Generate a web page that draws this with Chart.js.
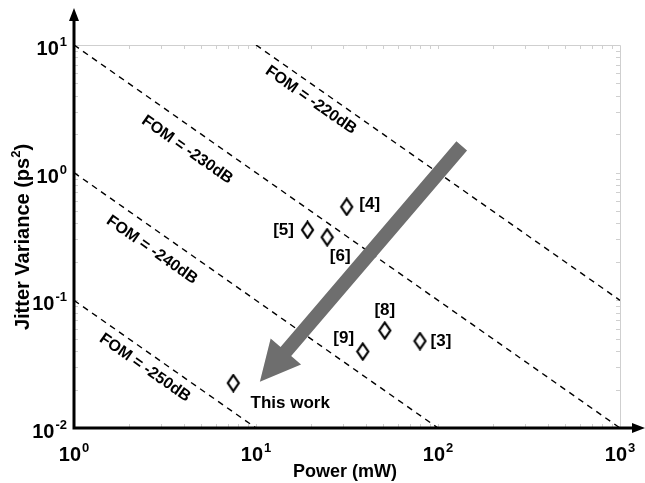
<!DOCTYPE html>
<html>
<head>
<meta charset="utf-8">
<script src="https://cdn.jsdelivr.net/npm/chart.js@4/dist/chart.umd.min.js"></script>
<style>
  html, body { margin: 0; padding: 0; background: #fff; }
  #wrap { width: 645px; height: 483px; }
</style>
</head>
<body>
<div id="wrap"><canvas id="jitter-chart" width="645" height="483"></canvas></div>
<script>
// published designs: power (mW) vs jitter variance (ps^2)
var refNames  = ['[4]', '[5]', '[6]', '[8]', '[9]', '[3]', 'This work'];
var refPower  = [31.5, 19.2, 24.6, 51, 38.6, 79.6, 7.5];
var refJitter = [0.54, 0.356, 0.312, 0.058, 0.0397, 0.048, 0.0225];

// FOM lines, end points
var fomNames = ['FOM = -220dB', 'FOM = -230dB', 'FOM = -240dB', 'FOM = -250dB'];
var fomX = [[10, 1000], [1, 1000], [1, 100], [1, 10]];
var fomY = [[10, 0.1], [10, 0.01], [1, 0.01], [0.1, 0.01]];

var xTicks = [1, 10, 100, 1000];
var xTickExp = ['0', '1', '2', '3'];
var yTicks = [0.01, 0.1, 1, 10];
var yTickExp = ['-2', '-1', '0', '1'];

var color = ['#000000', '#6e6e6e', '#cfcfcf', '#ffffff'];

// where the FOM captions sit, in data units
var fomLabelAt = [{x: 20, y: 3.7}, {x: 4.18, y: 1.51}, {x: 2.68, y: 0.248}, {x: 2.45, y: 0.0296}];
// pixel offsets of the point captions
var refLabelOff = [[23, -3], [-24, 0], [13, 19], [0, -20], [-19, -13], [21, 0], [57, 20]];
// the big arrow, data units
var arrowFrom = {x: 135, y: 1.62};
var arrowTo = {x: 10.5, y: 0.023};

var BOLD = 'bold ';
var FONT = '"Liberation Sans", Arial, sans-serif';

// tall diamond marker
var diamond = document.createElement('canvas');
diamond.width = 15; diamond.height = 19;
var dctx = diamond.getContext('2d');
dctx.beginPath();
dctx.moveTo(7.5, 1.5); dctx.lineTo(13, 9.5); dctx.lineTo(7.5, 17.5); dctx.lineTo(2, 9.5);
dctx.closePath();
dctx.fillStyle = '#fff'; dctx.fill();
dctx.lineWidth = 2.2; dctx.strokeStyle = '#000'; dctx.stroke();

var datasets = [];
for (var i = 0; i < fomNames.length; i++) {
	datasets.push({
		label: fomNames[i],
		data: [{x: fomX[i][0], y: fomY[i][0]}, {x: fomX[i][1], y: fomY[i][1]}],
		showLine: true,
		borderColor: color[0],
		borderWidth: 1.4,
		borderDash: [6, 5],
		pointRadius: 0
	});
}
var refPts = [];
for (var j = 0; j < refNames.length; j++) refPts.push({x: refPower[j], y: refJitter[j]});
datasets.push({
	label: 'designs',
	data: refPts,
	pointStyle: diamond,
	pointRadius: 8
});

function sup(ctx, base, exp, x, y, align, big, small) {
	ctx.font = BOLD + big + 'px ' + FONT;
	var wb = ctx.measureText(base).width;
	ctx.font = BOLD + small + 'px ' + FONT;
	var we = ctx.measureText(exp).width;
	var w = wb + 1 + we;
	var x0 = align === 'right' ? x - w : x - w / 2;
	ctx.textAlign = 'left';
	ctx.textBaseline = 'alphabetic';
	ctx.font = BOLD + big + 'px ' + FONT;
	ctx.fillText(base, x0, y);
	ctx.font = BOLD + small + 'px ' + FONT;
	ctx.fillText(exp, x0 + wb + 1, y - big * 0.45);
}

var decor = {
	id: 'decor',
	beforeDatasetsDraw: function(chart) {
		var ctx = chart.ctx, a = chart.chartArea;
		var xs = chart.scales.x, ys = chart.scales.y;
		ctx.save();
		// light frame top/right
		ctx.strokeStyle = color[2];
		ctx.lineWidth = 1;
		ctx.beginPath();
		ctx.moveTo(a.left, a.top + 0.5); ctx.lineTo(a.right + 0.5, a.top + 0.5); ctx.lineTo(a.right + 0.5, a.bottom);
		ctx.stroke();
		// minor ticks
		ctx.beginPath();
		for (var d = 1; d < 1000; d *= 10) {
			for (var m = 1; m < 10; m++) {
				var px = Math.round(xs.getPixelForValue(d * m)) + 0.5;
				ctx.moveTo(px, a.top); ctx.lineTo(px, a.top + 4);
				ctx.moveTo(px, a.bottom); ctx.lineTo(px, a.bottom - 4);
			}
		}
		for (var e = 0.01; e < 10; e *= 10) {
			for (var n = 1; n < 10; n++) {
				var py = Math.round(ys.getPixelForValue(e * n)) + 0.5;
				ctx.moveTo(a.right, py); ctx.lineTo(a.right - 4, py);
				ctx.moveTo(a.left, py); ctx.lineTo(a.left + 4, py);
			}
		}
		ctx.stroke();
		ctx.restore();
	},
	afterDatasetsDraw: function(chart) {
		var ctx = chart.ctx, a = chart.chartArea;
		var xs = chart.scales.x, ys = chart.scales.y;
		ctx.save();

		// big grey arrow
		var sx = xs.getPixelForValue(arrowFrom.x), sy = ys.getPixelForValue(arrowFrom.y);
		var tx = xs.getPixelForValue(arrowTo.x), ty = ys.getPixelForValue(arrowTo.y);
		var len = Math.hypot(tx - sx, ty - sy);
		var ux = (tx - sx) / len, uy = (ty - sy) / len;
		var nx = -uy, ny = ux;
		var hl = 40, hw = 20, sw = 7;
		var bx = tx - ux * hl, by = ty - uy * hl;
		ctx.fillStyle = color[1];
		ctx.beginPath();
		ctx.moveTo(sx + nx * sw, sy + ny * sw);
		ctx.lineTo(bx + nx * sw, by + ny * sw);
		ctx.lineTo(bx + nx * hw, by + ny * hw);
		ctx.lineTo(tx, ty);
		ctx.lineTo(bx - nx * hw, by - ny * hw);
		ctx.lineTo(bx - nx * sw, by - ny * sw);
		ctx.lineTo(sx - nx * sw, sy - ny * sw);
		ctx.closePath();
		ctx.fill();

		// FOM captions
		var ang = Math.atan2(ys.getPixelForValue(0.1) - ys.getPixelForValue(1),
			xs.getPixelForValue(10) - xs.getPixelForValue(1));
		ctx.fillStyle = color[0];
		ctx.font = BOLD + '16px ' + FONT;
		ctx.textAlign = 'center';
		ctx.textBaseline = 'middle';
		for (var i = 0; i < fomNames.length; i++) {
			ctx.save();
			ctx.translate(xs.getPixelForValue(fomLabelAt[i].x), ys.getPixelForValue(fomLabelAt[i].y));
			ctx.rotate(ang);
			ctx.fillText(fomNames[i], 0, 0);
			ctx.restore();
		}

		// point captions
		ctx.font = BOLD + '17px ' + FONT;
		for (var j = 0; j < refNames.length; j++) {
			ctx.fillText(refNames[j], xs.getPixelForValue(refPower[j]) + refLabelOff[j][0],
				ys.getPixelForValue(refJitter[j]) + refLabelOff[j][1]);
		}

		// main axes with arrow heads
		ctx.strokeStyle = color[0];
		ctx.lineWidth = 3;
		ctx.beginPath();
		ctx.moveTo(a.left, a.bottom); ctx.lineTo(a.left, 18);
		ctx.moveTo(a.left - 1.5, a.bottom); ctx.lineTo(636, a.bottom);
		ctx.stroke();
		ctx.beginPath();
		ctx.moveTo(a.left, 8); ctx.lineTo(a.left - 5, 21); ctx.lineTo(a.left + 5, 21); ctx.closePath();
		ctx.moveTo(645, a.bottom); ctx.lineTo(632, a.bottom - 5); ctx.lineTo(632, a.bottom + 5); ctx.closePath();
		ctx.fill();

		// tick labels
		for (var k = 0; k < xTicks.length; k++) {
			sup(ctx, '10', xTickExp[k], xs.getPixelForValue(xTicks[k]), a.bottom + 33, 'center', 20, 13);
		}
		for (var q = 0; q < yTicks.length; q++) {
			sup(ctx, '10', yTickExp[q], a.left - 7, ys.getPixelForValue(yTicks[q]) + 10, 'right', 20, 13);
		}

		// axis titles
		ctx.textAlign = 'center';
		ctx.textBaseline = 'alphabetic';
		ctx.font = BOLD + '18px ' + FONT;
		ctx.fillText('Power (mW)', (a.left + a.right) / 2 - 2, 477);

		ctx.save();
		ctx.translate(29, 237);
		ctx.rotate(-Math.PI / 2);
		var t1 = 'Jitter Variance (ps', t2 = '2', t3 = ')';
		ctx.font = BOLD + '20px ' + FONT;
		var w1 = ctx.measureText(t1).width, w3 = ctx.measureText(t3).width;
		ctx.font = BOLD + '13px ' + FONT;
		var w2 = ctx.measureText(t2).width;
		var x0 = -(w1 + w2 + w3) / 2;
		ctx.textAlign = 'left';
		ctx.font = BOLD + '20px ' + FONT;
		ctx.fillText(t1, x0, 0);
		ctx.fillText(t3, x0 + w1 + w2, 0);
		ctx.font = BOLD + '13px ' + FONT;
		ctx.fillText(t2, x0 + w1, -9);
		ctx.restore();

		ctx.restore();
	}
};

var chart_jitter = new Chart(document.getElementById('jitter-chart'), {
	type: 'scatter',
	data: { datasets: datasets },
	options: {
		responsive: false,
		animation: false,
		layout: { padding: { left: 74, right: 25, top: 45, bottom: 55 } },
		plugins: { legend: { display: false }, tooltip: { enabled: false } },
		scales: {
			x: { type: 'logarithmic', min: 1, max: 1000, display: false },
			y: { type: 'logarithmic', min: 0.01, max: 10, display: false }
		}
	},
	plugins: [decor]
});
</script>
</body>
</html>
